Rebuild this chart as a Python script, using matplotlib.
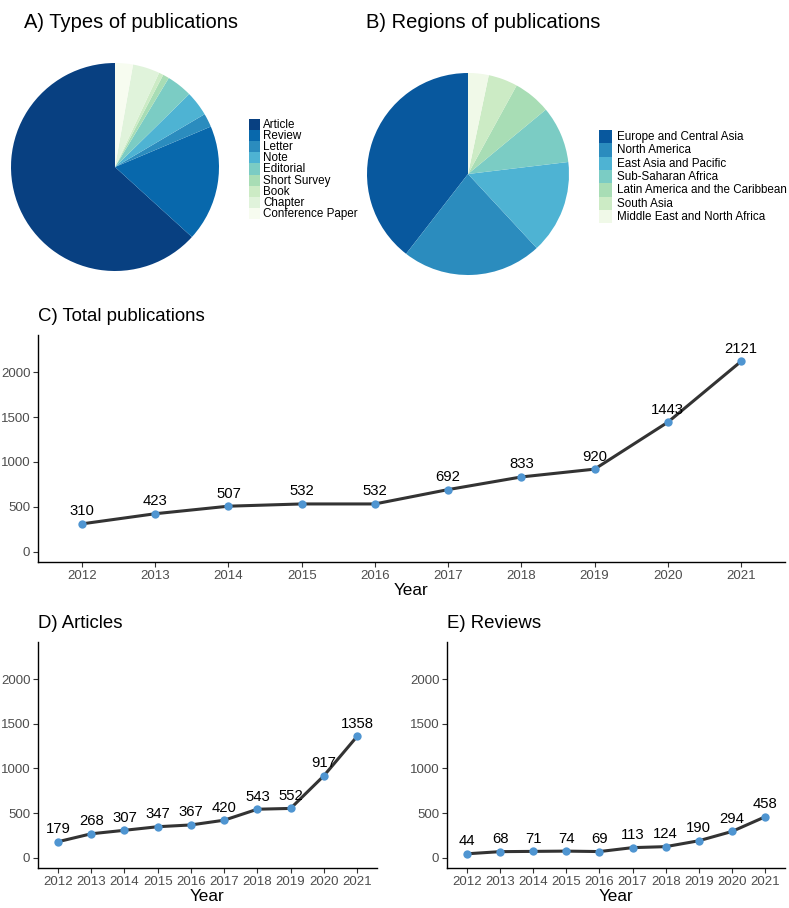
import numpy as np
import matplotlib
matplotlib.use("Agg")
import matplotlib.pyplot as plt
from matplotlib.patches import Rectangle

plt.rcParams['font.family'] = ['Liberation Sans', 'DejaVu Sans']

# Data
types = ["Article", "Review", "Letter", "Note", "Editorial", "Short Survey",
         "Book", "Chapter", "Conference Paper"]
type_counts = [5258, 1505, 176, 323, 332, 81, 58, 349, 231]
type_colors = ["#084081", "#0868ac", "#2b8cbe", "#4eb3d3", "#7bccc4",
               "#a8ddb5", "#ccebc5", "#e0f3db", "#f7fcf0"]

regions = ["Europe and Central Asia", "North America", "East Asia and Pacific",
           "Sub-Saharan Africa", "Latin America and the Caribbean", "South Asia",
           "Middle East and North Africa"]
region_share = [39.5, 22.4, 15.0, 9.1, 6.0, 4.7, 3.3]
region_colors = ["#08589e", "#2b8cbe", "#4eb3d3", "#7bccc4", "#a8ddb5",
                 "#ccebc5", "#f0f9e8"]

years = [2012, 2013, 2014, 2015, 2016, 2017, 2018, 2019, 2020, 2021]
total = [310, 423, 507, 532, 532, 692, 833, 920, 1443, 2121]
articles = [179, 268, 307, 347, 367, 420, 543, 552, 917, 1358]
reviews = [44, 68, 71, 74, 69, 113, 124, 190, 294, 458]

W, H = 789, 908
fig = plt.figure(figsize=(W / 100, H / 100), dpi=100)


def box(x0, y0, x1, y1):
    # pixel box (top-left origin) -> figure fraction rect
    return [x0 / W, 1 - y1 / H, (x1 - x0) / W, (y1 - y0) / H]


def pie_panel(rect, values, colors, labels, leg_x, leg_top, row_px, gap_px):
    ax = fig.add_axes(rect)
    ax.pie(values, colors=colors, startangle=90, counterclock=True,
           radius=1, wedgeprops=dict(linewidth=0))
    ax.set_xlim(-1, 1)
    ax.set_ylim(-1, 1)
    ax.set_aspect('equal')
    ax.axis('off')
    # legend keys stacked without gaps, like the ggplot legend
    for i, (lab, col) in enumerate(zip(labels, colors)):
        y0 = leg_top + i * row_px
        fig.patches.append(Rectangle((leg_x / W, 1 - (y0 + row_px) / H),
                                     row_px / W, row_px / H, facecolor=col,
                                     edgecolor='none', transform=fig.transFigure))
        fig.text((leg_x + row_px + gap_px) / W, 1 - (y0 + row_px / 2 + 0.5) / H,
                 lab, fontsize=8.4, va='center', ha='left')
    return ax


pie_panel(box(11, 63, 219, 271), type_counts, type_colors, types,
          249, 119, 11.1, 3)
pie_panel(box(367, 73, 569, 275), region_share, region_colors, regions,
          599, 130, 13.3, 5)

fig.text(24 / W, 1 - 28 / H, "A) Types of publications", fontsize=14.5,
         va='baseline', ha='left')
fig.text(366 / W, 1 - 28 / H, "B) Regions of publications", fontsize=14.5,
         va='baseline', ha='left')


def line_panel(rect, values, title):
    ax = fig.add_axes(rect)
    ax.plot(years, values, color="#333333", lw=2.2, zorder=2)
    ax.scatter(years, values, color="#4f95d1", s=36, zorder=3, linewidths=0)
    for x, v in zip(years, values):
        ax.annotate(str(v), (x, v), xytext=(0, 4), textcoords='offset points',
                    ha='center', va='bottom', fontsize=10.7, color='black')
    ax.set_xlim(2011.4, 2021.6)
    ax.set_ylim(-115, 2415)
    ax.set_xticks(years)
    ax.set_yticks([0, 500, 1000, 1500, 2000])
    ax.tick_params(colors="#333333", labelcolor="#4d4d4d", labelsize=9.5,
                   length=3.5, width=0.8, pad=2)
    for s in ['top', 'right']:
        ax.spines[s].set_visible(False)
    for s in ['left', 'bottom']:
        ax.spines[s].set_linewidth(1.0)
        ax.spines[s].set_color('black')
    ax.set_xlabel("Year", fontsize=12.3, labelpad=1)
    ax.set_title(title, loc='left', fontsize=13.4, pad=10)
    return ax


line_panel(box(38, 335, 785, 562), total, "C) Total publications")
line_panel(box(38, 642, 377, 868), articles, "D) Articles")
line_panel(box(447, 642, 785, 868), reviews, "E) Reviews")

fig.savefig("out.png", dpi=100)
